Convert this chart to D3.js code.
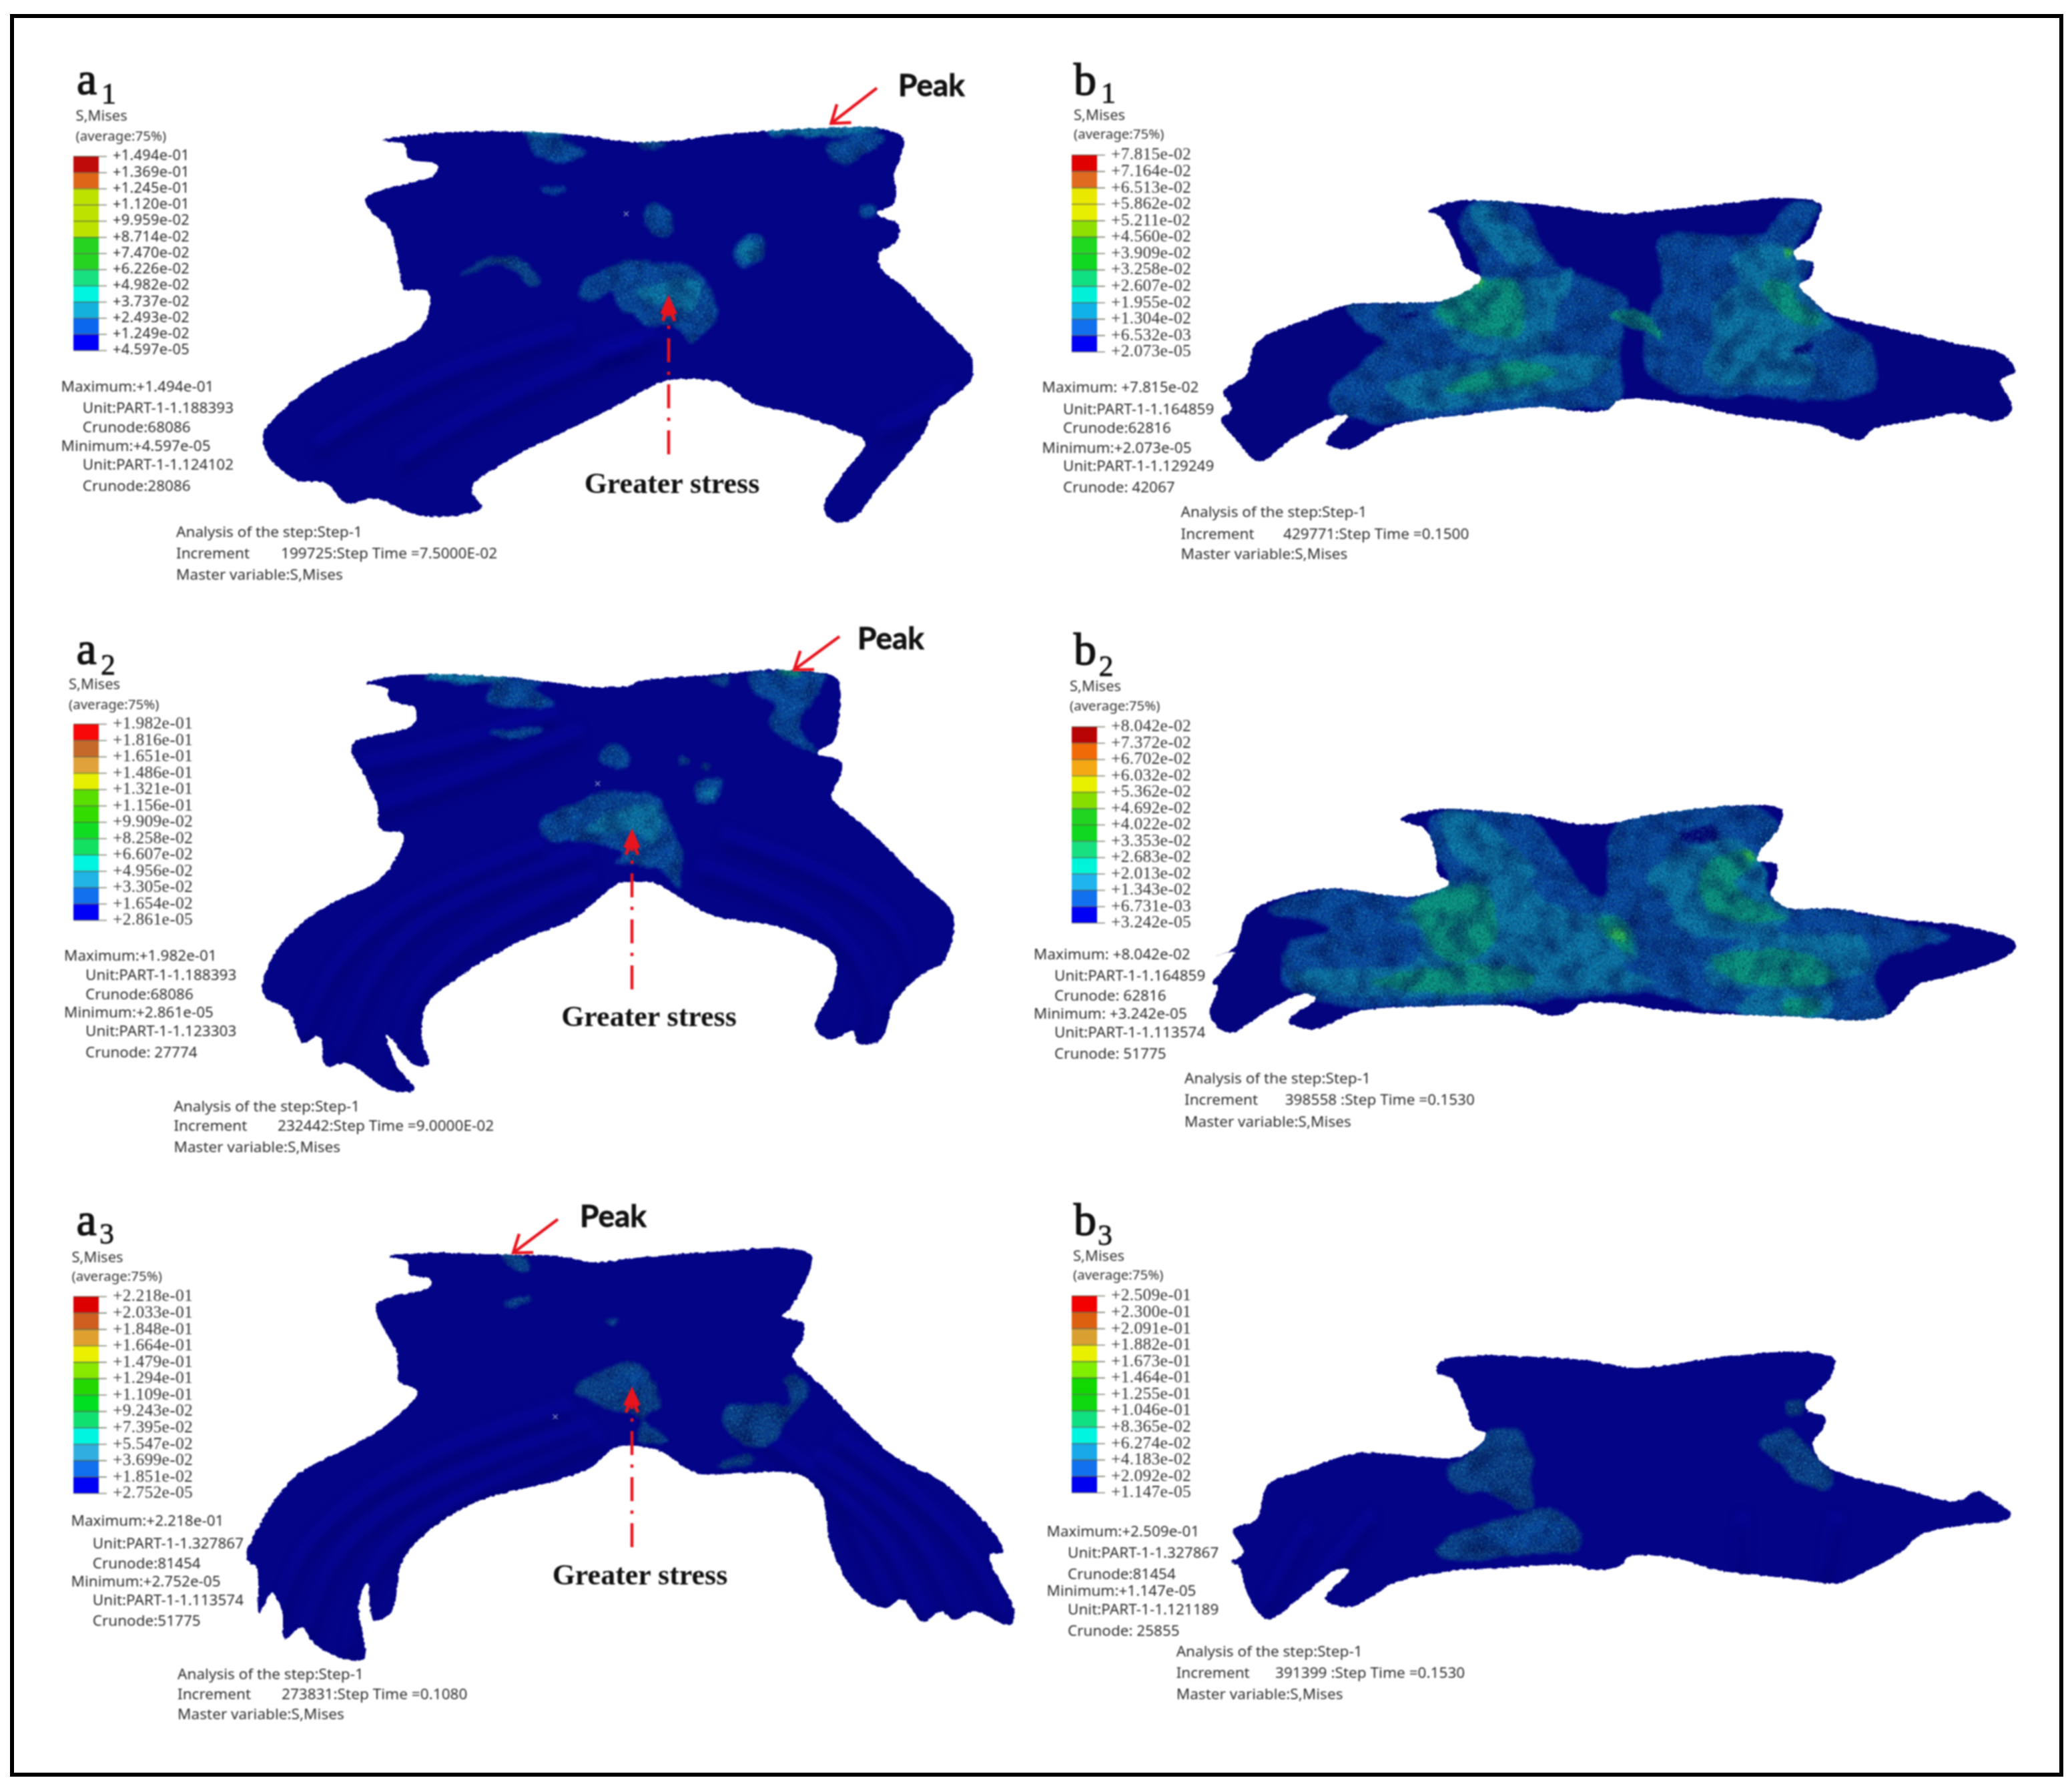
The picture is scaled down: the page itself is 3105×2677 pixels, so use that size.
<!DOCTYPE html>
<html><head><meta charset="utf-8">
<script src="https://cdn.jsdelivr.net/npm/d3@7/dist/d3.min.js"></script>
<style>html,body{margin:0;padding:0;background:#fff}svg{display:block}</style></head>
<body><svg id="fig" width="3105" height="2677"></svg>
<script>
// ---------- legend labels ----------
const legendA1=["+1.494e-01","+1.369e-01","+1.245e-01","+1.120e-01","+9.959e-02","+8.714e-02","+7.470e-02","+6.226e-02","+4.982e-02","+3.737e-02","+2.493e-02","+1.249e-02","+4.597e-05"];
const legendA2=["+1.982e-01","+1.816e-01","+1.651e-01","+1.486e-01","+1.321e-01","+1.156e-01","+9.909e-02","+8.258e-02","+6.607e-02","+4.956e-02","+3.305e-02","+1.654e-02","+2.861e-05"];
const legendA3=["+2.218e-01","+2.033e-01","+1.848e-01","+1.664e-01","+1.479e-01","+1.294e-01","+1.109e-01","+9.243e-02","+7.395e-02","+5.547e-02","+3.699e-02","+1.851e-02","+2.752e-05"];
const legendB1=["+7.815e-02","+7.164e-02","+6.513e-02","+5.862e-02","+5.211e-02","+4.560e-02","+3.909e-02","+3.258e-02","+2.607e-02","+1.955e-02","+1.304e-02","+6.532e-03","+2.073e-05"];
const legendB2=["+8.042e-02","+7.372e-02","+6.702e-02","+6.032e-02","+5.362e-02","+4.692e-02","+4.022e-02","+3.353e-02","+2.683e-02","+2.013e-02","+1.343e-02","+6.731e-03","+3.242e-05"];
const legendB3=["+2.509e-01","+2.300e-01","+2.091e-01","+1.882e-01","+1.673e-01","+1.464e-01","+1.255e-01","+1.046e-01","+8.365e-02","+6.274e-02","+4.183e-02","+2.092e-02","+1.147e-05"];
// ---------- legend band colours ----------
const bandsA1=["#c00b0b","#de6618","#bde200","#bde200","#bde200","#24d420","#24d420","#18e080","#00f5e0","#12b2dc","#0a68ee","#0000fa"];
const bandsA2=["#f80808","#c4692a","#e0a33c","#e6ef00","#58df00","#33dc00","#10dc22","#12e060","#00f5e0","#20b4e4","#1070ee","#0000f5"];
const bandsA3=["#dd0000","#cf5f20","#e0a030","#eaf000","#88e800","#22d800","#00e020","#10e070","#00f5e0","#30aee0","#1070ee","#0000f5"];
const bandsB1=["#e00000","#e06a20","#e8e800","#e8ee00","#8ee000","#20d820","#10d820","#10e080","#00f0d8","#10b0e8","#1070ee","#0000f5"];
const bandsB2=["#b80404","#f06a08","#f4a814","#e8f000","#88dd00","#22d422","#10d820","#18e080","#00f5d8","#20b4ee","#1070ee","#0000f5"];
const bandsB3=["#f40000","#dd6010","#d8a030","#e8f000","#80ee00","#10d800","#10d810","#10e080","#00f5e0","#18a8e8","#1070ee","#0000f0"];
// ---------- result text ----------
const infoA1=["Maximum:+1.494e-01","Unit:PART-1-1.188393","Crunode:68086","Minimum:+4.597e-05","Unit:PART-1-1.124102","Crunode:28086"];
const infoA2=["Maximum:+1.982e-01","Unit:PART-1-1.188393","Crunode:68086","Minimum:+2.861e-05","Unit:PART-1-1.123303","Crunode: 27774"];
const infoA3=["Maximum:+2.218e-01","Unit:PART-1-1.327867","Crunode:81454","Minimum:+2.752e-05","Unit:PART-1-1.113574","Crunode:51775"];
const infoB1=["Maximum: +7.815e-02","Unit:PART-1-1.164859","Crunode:62816","Minimum:+2.073e-05","Unit:PART-1-1.129249","Crunode: 42067"];
const infoB2=["Maximum: +8.042e-02","Unit:PART-1-1.164859","Crunode: 62816","Minimum: +3.242e-05","Unit:PART-1-1.113574","Crunode: 51775"];
const infoB3=["Maximum:+2.509e-01","Unit:PART-1-1.327867","Crunode:81454","Minimum:+1.147e-05","Unit:PART-1-1.121189","Crunode: 25855"];
const stepA1=["Analysis of the step:Step-1","Increment","199725:Step Time =7.5000E-02","Master variable:S,Mises"];
const stepA2=["Analysis of the step:Step-1","Increment","232442:Step Time =9.0000E-02","Master variable:S,Mises"];
const stepA3=["Analysis of the step:Step-1","Increment","273831:Step Time =0.1080","Master variable:S,Mises"];
const stepB1=["Analysis of the step:Step-1","Increment","429771:Step Time =0.1500","Master variable:S,Mises"];
const stepB2=["Analysis of the step:Step-1","Increment","398558 :Step Time =0.1530","Master variable:S,Mises"];
const stepB3=["Analysis of the step:Step-1","Increment","391399 :Step Time =0.1530","Master variable:S,Mises"];
const legendHead=["S,Mises","(average:75%)"];
const peakText="Peak", stressText="Greater stress";
// ---------- model outlines (in each panel's own units) ----------
const outlineA1=[[265,240],[330,222],[420,212],[560,212],[680,225],[780,245],[870,240],[960,222],[1080,207],[1180,200],[1290,200],[1340,235],[1335,290],[1320,350],[1325,400],[1320,445],[1285,480],[1330,515],[1325,570],[1290,610],[1295,660],[1340,720],[1390,800],[1440,880],[1480,950],[1480,1020],[1440,1080],[1400,1130],[1380,1200],[1340,1280],[1290,1370],[1240,1470],[1205,1490],[1175,1440],[1210,1340],[1260,1225],[1220,1190],[1110,1130],[1030,1100],[960,1030],[850,1025],[820,1045],[720,1130],[590,1230],[520,1290],[450,1375],[470,1440],[440,1460],[340,1465],[250,1410],[190,1425],[150,1360],[90,1350],[30,1270],[20,1200],[60,1120],[130,1030],[210,960],[300,900],[350,840],[360,735],[310,725],[300,660],[280,530],[240,470],[230,430],[280,395],[370,355],[380,320],[320,300],[310,255]];
const outlineA2=[[240,180],[300,155],[500,155],[640,175],[720,190],[800,185],[830,170],[990,150],[1120,135],[1230,150],[1250,170],[1250,300],[1240,360],[1205,400],[1255,425],[1255,470],[1235,540],[1280,600],[1340,680],[1420,800],[1490,900],[1495,980],[1470,1070],[1440,1090],[1370,1190],[1340,1310],[1290,1320],[1280,1285],[1230,1310],[1200,1270],[1240,1130],[1240,1040],[1140,960],[980,915],[900,850],[860,815],[780,815],[740,860],[680,930],[580,990],[450,1100],[370,1200],[360,1310],[375,1385],[345,1392],[285,1295],[305,1390],[345,1470],[290,1470],[200,1385],[155,1395],[140,1300],[105,1320],[75,1220],[20,1165],[40,1050],[110,930],[190,860],[270,800],[320,660],[270,640],[265,570],[240,480],[210,375],[340,310],[345,260],[290,230],[285,195]];
const outlineA3=[[305,180],[370,170],[530,175],[640,180],[700,200],[790,185],[950,165],[1090,155],[1130,175],[1130,220],[1090,350],[1075,375],[1115,400],[1115,450],[1095,500],[1100,525],[1150,600],[1230,740],[1300,840],[1390,920],[1500,1110],[1505,1150],[1480,1155],[1530,1345],[1520,1385],[1450,1340],[1410,1370],[1385,1340],[1350,1375],[1310,1300],[1275,1330],[1220,1280],[1170,1130],[1150,960],[1110,895],[900,885],[850,830],[810,805],[750,805],[700,870],[640,910],[480,980],[380,1080],[330,1180],[310,1340],[275,1370],[262,1245],[245,1320],[255,1495],[190,1480],[150,1430],[135,1390],[100,1430],[95,1340],[75,1280],[50,1345],[45,1200],[25,1170],[50,1060],[120,900],[230,800],[300,730],[360,620],[325,590],[320,500],[280,340],[385,280],[385,255],[345,240],[340,200]];
const outlineB1=[[435,170],[480,125],[560,125],[680,150],[770,180],[840,170],[950,140],[1090,110],[1145,140],[1135,230],[1125,290],[1095,350],[1100,385],[1130,400],[1125,470],[1105,500],[1130,570],[1160,630],[1260,690],[1380,760],[1475,815],[1495,890],[1470,930],[1490,1060],[1460,1115],[1400,1080],[1320,1110],[1240,1150],[1215,1200],[1130,1130],[1000,1090],[880,1030],[780,1020],[760,1060],[700,1070],[650,1050],[500,1085],[370,1135],[290,1240],[250,1210],[290,1090],[270,1090],[190,1190],[130,1295],[85,1190],[60,1105],[80,1060],[65,980],[105,905],[125,760],[220,650],[290,590],[470,565],[530,470],[500,420],[490,350],[470,250],[455,190]];
const outlineB2=[[390,145],[450,100],[540,105],[640,130],[720,165],[780,160],[860,120],[1040,80],[1090,100],[1085,180],[1050,290],[1045,330],[1080,345],[1080,420],[1070,480],[1100,540],[1190,545],[1300,590],[1440,630],[1520,700],[1510,750],[1400,850],[1340,890],[1280,1030],[1100,1030],[880,1005],[780,970],[720,975],[700,1015],[650,1020],[620,990],[450,985],[310,1010],[230,1090],[185,1050],[235,950],[215,930],[150,1000],[75,1105],[40,1020],[55,900],[45,880],[60,830],[85,740],[50,760],[85,720],[110,570],[180,490],[260,455],[420,490],[480,430],[460,390],[455,300],[435,190]];
const outlineB3=[[420,170],[430,120],[490,95],[600,100],[700,115],[790,150],[850,140],[950,105],[1130,80],[1175,115],[1160,220],[1120,310],[1125,345],[1155,370],[1155,420],[1135,480],[1145,560],[1190,625],[1300,690],[1405,750],[1445,705],[1475,740],[1510,810],[1500,835],[1420,860],[1340,900],[1300,980],[1240,1060],[1180,1120],[1100,1100],[950,1060],[880,1010],[785,1000],[770,1040],[710,1060],[690,1040],[550,1050],[430,1070],[340,1120],[260,1225],[210,1190],[255,1060],[230,1060],[170,1170],[100,1280],[65,1180],[45,1040],[30,1025],[55,980],[35,880],[80,830],[100,680],[170,610],[270,535],[470,545],[515,450],[490,420],[480,350],[450,200]];
// ---------- stress contours: [level, points]; 0 dark, 1 blue, 2 teal, 3 green, 4 dim, 5 hot ----------
const stressA1=[
[1,[[565,225],[640,240],[685,290],[640,305],[580,285]]],[1,[[1180,265],[1250,220],[1300,230],[1260,290],[1215,320]]],
[1,[[805,490],[830,445],[865,490],[860,550],[830,545]]],[1,[[990,600],[1030,545],[1055,570],[1040,640],[1005,660]]],
[1,[[1250,455],[1280,450],[1280,490],[1255,490]]],[1,[[590,400],[640,395],[640,410],[600,412]]],
[4,[[420,670],[540,615],[565,650],[590,700],[570,715],[520,650],[440,670]]],
[1,[[680,710],[770,635],[840,640],[900,650],[930,700],[955,810],[930,860],[905,895],[860,840],[810,850],[800,830],[750,780],[740,730],[700,770],[675,745]]],
[4,[[790,250],[850,250],[820,275]]],
[2,[[790,735],[850,695],[915,700],[915,760],[900,800],[860,770],[810,770]]],[2,[[1000,600],[1030,570],[1045,600],[1020,640]]],
[2,[[560,208],[640,208],[640,222],[560,222]]],[2,[[1060,205],[1290,197],[1290,206],[1060,220]]]];
const stressA2=[
[1,[[500,240],[520,170],[620,180],[600,200],[640,245]]],[1,[[1060,190],[1070,150],[1220,150],[1210,200],[1170,280],[1170,340],[1205,400],[1150,370],[1105,300],[1115,250]]],
[4,[[975,165],[1020,150],[1010,185]]],[1,[[500,335],[600,315],[620,325],[580,350]]],[1,[[738,410],[770,365],[803,400],[790,450],[755,445]]],
[1,[[940,510],[965,480],[998,490],[985,555],[950,550]]],
[1,[[610,625],[740,530],[850,535],[880,590],[910,700],[910,820],[860,760],[770,755],[790,720],[700,680],[630,680]]],
[4,[[910,425],[925,415],[932,430],[918,442]]],[4,[[955,430],[970,428],[972,445],[958,450]]],
[2,[[705,650],[760,590],[860,570],[860,680],[800,650]]],[2,[[955,520],[985,510],[980,540]]],
[2,[[370,150],[540,155],[540,168],[370,162]]],[3,[[1120,132],[1170,132],[1170,146],[1120,148]]]];
const stressA3=[
[4,[[525,180],[570,180],[580,225],[550,225]]],[4,[[525,330],[580,318],[580,330],[530,340]]],[4,[[730,390],[750,385],[745,410]]],
[4,[[670,620],[700,570],[780,530],[815,570],[835,670],[810,700],[790,790],[850,790],[820,740],[790,700],[740,680]]],
[4,[[960,680],[1010,660],[1090,665],[1080,580],[1110,575],[1125,620],[1080,720],[1040,800],[980,780]]],
[4,[[950,860],[1010,830],[1020,850],[970,870]]],[1,[[740,590],[800,570],[810,600],[770,620]]]];
const stressB1=[
[1,[[290,600],[480,560],[530,470],[490,200],[520,130],[600,140],[650,350],[700,450],[790,560],[780,800],[780,1020],[640,1060],[430,1100],[330,1120],[260,1050],[260,980],[340,800],[360,760],[310,680]]],
[1,[[850,300],[900,270],[1040,270],[1090,130],[1140,150],[1100,350],[1130,400],[1110,500],[1160,640],[1230,770],[1235,970],[1000,1000],[880,980],[830,880],[830,650],[860,500]]],
[2,[[510,150],[550,170],[640,380],[600,420],[540,300]]],
[2,[[440,620],[530,470],[640,470],[700,440],[670,620],[650,760],[620,800],[490,780],[470,700]]],
[2,[[360,960],[500,850],[640,810],[770,850],[700,970],[560,1030],[400,1050]]],
[2,[[980,380],[1070,320],[1100,380],[1110,520],[1160,640],[1170,690],[1110,770],[1130,860],[1125,940],[1010,950],[935,910],[950,740],[950,590],[1000,480]]],
[0,[[1090,780],[1130,770],[1125,800],[1100,810]]],[0,[[370,630],[420,630],[400,650]]],
[3,[[450,610],[530,480],[590,480],[610,640],[600,730],[490,700]]],[3,[[460,980],[510,910],[600,850],[670,890],[650,920],[550,980]]],
[3,[[1040,490],[1090,500],[1100,580],[1150,640],[1130,680],[1070,620]]],[3,[[760,640],[820,620],[860,740],[820,700]]],
[5,[[1075,330],[1095,345],[1082,390]]],[5,[[515,490],[535,470],[530,510]]]];
const stressB2=[
[1,[[150,550],[260,460],[420,490],[480,430],[450,300],[450,130],[520,110],[620,130],[760,500],[790,160],[1040,90],[1085,180],[1050,330],[1070,480],[1100,540],[1190,545],[1330,620],[1400,660],[1260,820],[1280,1030],[1000,1020],[850,930],[700,950],[300,990],[220,940],[170,880],[190,700],[260,640]]],
[0,[[900,210],[970,180],[970,230],[920,240]]],
[2,[[470,110],[520,120],[640,400],[560,420],[480,280]]],
[2,[[380,600],[480,430],[600,400],[680,540],[800,590],[830,750],[800,800],[860,880],[620,930],[350,940],[220,900],[190,840],[280,810],[420,780],[420,650]]],
[2,[[840,420],[870,330],[1000,230],[1050,330],[1070,480],[1110,560],[1080,650],[1240,680],[1250,790],[1200,870],[960,880],[950,780],[1020,690],[900,640],[880,500]]],
[2,[[1020,950],[1100,900],[1180,930],[1170,1030],[1010,1010]]],
[3,[[410,540],[490,440],[540,440],[570,640],[500,800],[420,620]]],[3,[[340,880],[460,810],[640,840],[620,900],[440,920]]],
[3,[[950,340],[1040,300],[1040,350],[1000,430],[1080,550],[1100,580],[1040,610],[950,540]]],[3,[[960,780],[1050,730],[1150,760],[1190,860],[1000,870]]],
[3,[[750,600],[800,590],[820,750],[790,720]]],[3,[[1100,950],[1160,960],[1160,1020],[1100,1020]]],
[5,[[775,640],[800,640],[805,690],[785,690]]],[5,[[1020,300],[1040,300],[1040,340]]]];
const stressB3=[
[4,[[450,590],[480,545],[530,430],[575,430],[600,540],[600,700],[600,780],[530,730],[465,690],[440,620]]],
[4,[[420,960],[520,850],[640,790],[690,880],[690,960],[560,990],[440,1010]]],
[1,[[480,930],[560,870],[650,850],[670,920],[560,960]]],
[4,[[1085,300],[1115,310],[1115,360],[1085,365]]],[4,[[1035,490],[1080,420],[1130,520],[1170,620],[1165,690],[1110,670],[1070,590]]]];
// ---------- shaded ridges ----------
const ridgesA1=[[[130,1230],[350,1000],[660,850]],[[300,1280],[500,1080],[800,890]],[[700,930],[770,900],[830,860]],[[1290,1180],[1400,1110],[1440,1040]]];
const ridgesA2=[[[110,1290],[170,1050],[350,830],[620,680]],[[190,1340],[280,1000],[470,830],[720,700]],[[310,1390],[330,1130],[520,920],[730,790]],[[1290,1280],[1330,1100],[1200,880],[950,750]],[[1350,1200],[1420,1000],[1280,800],[1000,650]],[[230,430],[450,360],[650,260]],[[270,560],[500,450],[700,320]]];
const ridgesA3=[[[95,1340],[130,1100],[350,830],[660,660]],[[150,1400],[200,1100],[420,880],[700,720]],[[230,1460],[270,1130],[470,930],[720,760]],[[1350,1350],[1250,1000],[1000,720]],[[1410,1340],[1340,1050],[1140,820]],[[1500,1340],[1420,1060],[1180,760]],[[1280,1300],[1180,950]]];
const ridgesB3=[[[100,1200],[180,850]],[[200,1100],[300,800]],[[1000,1040],[1000,800]],[[1160,1060],[1180,800]]];

// ---------- page scales for every panel ----------
const W=3105,H=2677;
const svg=d3.select("#fig");
const defs=svg.append("defs");
const full={filterUnits:"userSpaceOnUse",x:0,y:0,width:W,height:H};
const mkFilter=id=>{const f=defs.append("filter").attr("id",id).attr("color-interpolation-filters","sRGB");Object.entries(full).forEach(([k,v])=>f.attr(k,v));return f;};
let f=mkFilter("soft");f.append("feGaussianBlur").attr("stdDeviation",0.8);
f=mkFilter("rib");f.append("feGaussianBlur").attr("stdDeviation",7);
f=mkFilter("edge");
f.append("feTurbulence").attr("type","fractalNoise").attr("baseFrequency",0.16).attr("numOctaves",2).attr("seed",4).attr("result","n");
f.append("feDisplacementMap").attr("in","SourceGraphic").attr("in2","n").attr("scale",5).attr("xChannelSelector","R").attr("yChannelSelector","G").attr("result","d");
f.append("feGaussianBlur").attr("in","d").attr("stdDeviation",1.3);
f=mkFilter("patch");
f.append("feTurbulence").attr("type","fractalNoise").attr("baseFrequency",0.028).attr("numOctaves",3).attr("seed",11).attr("result","w");
f.append("feDisplacementMap").attr("in","SourceGraphic").attr("in2","w").attr("scale",14).attr("xChannelSelector","R").attr("yChannelSelector","G").attr("result","dd");
f.append("feGaussianBlur").attr("in","dd").attr("stdDeviation",2.6).attr("result","b");
// gentle mottling
f.append("feTurbulence").attr("type","fractalNoise").attr("baseFrequency",0.03).attr("numOctaves",2).attr("seed",21).attr("result","mt");
f.append("feColorMatrix").attr("in","mt").attr("type","matrix").attr("values","0 0 0 0 0  0 0 0 0 0.02  0 0 0 0 0.3  1.3 0 0 0 -0.5").attr("result","mg");
f.append("feComposite").attr("in","mg").attr("in2","b").attr("operator","in").attr("result","mott");
// speckle
f.append("feTurbulence").attr("type","fractalNoise").attr("baseFrequency",0.42).attr("numOctaves",2).attr("seed",9).attr("result","t");
f.append("feColorMatrix").attr("in","t").attr("type","matrix").attr("values","0 0 0 0 0  0 0 0 0 0.03  0 0 0 0 0.2  1.6 0 0 0 -0.7").attr("result","g");
f.append("feComposite").attr("in","g").attr("in2","b").attr("operator","in").attr("result","dark");
f.append("feColorMatrix").attr("in","t").attr("type","matrix").attr("values","0 0 0 0 0.2  0 0 0 0 0.8  0 0 0 0 0.75  0 1.5 0 0 -0.75").attr("result","h");
f.append("feComposite").attr("in","h").attr("in2","b").attr("operator","in").attr("result","light");
let m=f.append("feMerge");["b","mott","dark","light"].forEach(n=>m.append("feMergeNode").attr("in",n));
f.append("feGaussianBlur").attr("stdDeviation",0.7);

const levelFill=d3.scaleOrdinal([0,1,2,3,4,5],["#04047a","#0848a4","#0c76ac","#0a9a80","#0a3f90","#30c050"]);
const PANELS=[
 {id:"a1",mark:"a",sub:"1",legend:legendA1,bands:bandsA1,info:infoA1,step:stepA1,outline:outlineA1,stress:stressA1,ridges:ridgesA1,
  box:[380,100,1140,720],dom:[1568,1568],bar:[110,234,525],serif:false,head:[[113.6,173.5],[113.6,204]],tag:[115,141,152,155],
  infoX:[91.6,123.8],infoY:[579,610.7,640.5,668,696.5,728],stepX:[264,421],stepY:[797,829,861],
  peak:[1346,127.5],arrow:[[1314,132],[1245.5,185]],sx:1002,sy:[681,449],gs:[1007,724],cross:[768,480],base:"#040486"},
 {id:"a2",mark:"a",sub:"2",legend:legendA2,bands:bandsA2,info:infoA2,step:stepA2,outline:outlineA2,stress:stressA2,ridges:ridgesA2,
  box:[380,940,1100,740],dom:[1568,1568],bar:[110,1085,1379],serif:true,head:[[103,1025],[103,1056]],tag:[114.4,994.6,151,1010.5],
  infoX:[96,128],infoY:[1432,1461.5,1490,1517.6,1545,1577],stepX:[260.4,416],stepY:[1658,1687,1719],
  peak:[1285,956.5],arrow:[[1258,954],[1190,1004]],sx:947,sy:[1483,1249],gs:[972.5,1523],cross:[735,498],base:"#040486"},
 {id:"a3",mark:"a",sub:"3",legend:legendA3,bands:bandsA3,info:infoA3,step:stepA3,outline:outlineA3,stress:stressA3,ridges:ridgesA3,
  box:[350,1800,1200,720],dom:[1568,1568],bar:[110,1943,2238],serif:true,head:[[107.5,1884],[107.5,1913]],tag:[114.4,1851,149,1864],
  infoX:[106.6,138.8],infoY:[2279.6,2312.8,2343,2370,2398,2429],stepX:[266,422],stepY:[2509,2539,2569],
  peak:[869,1823],arrow:[[836,1827.5],[769,1878]],sx:947,sy:[2319,2085],gs:[959,2360],cross:[630,705],base:"#040486"},
 {id:"b1",mark:"b",sub:"1",legend:legendB1,bands:bandsB1,info:infoB1,step:stepB1,outline:outlineB1,stress:stressB1,ridges:[],
  box:[1780,260,1300,460],dom:[1568,1380],bar:[1606,232,527],serif:true,head:[[1609,172],[1609,201]],tag:[1609,141.6,1650,154],
  infoX:[1561.6,1593],infoY:[580,613.6,641.6,670.7,698,730],stepX:[1769.6,1923],stepY:[766.6,800,830],base:"#04047e"},
 {id:"b2",mark:"b",sub:"2",legend:legendB2,bands:bandsB2,info:infoB2,step:stepB2,outline:outlineB2,stress:stressB2,ridges:[],
  box:[1780,1180,1280,420],dom:[1568,1260],bar:[1606,1089,1383],serif:true,head:[[1603,1028],[1603,1057.6]],tag:[1609,996,1646.5,1012.6],
  infoX:[1549,1580],infoY:[1430,1462,1492,1519,1547,1579],stepX:[1775,1925.7],stepY:[1616,1648,1681],base:"#04047e"},
 {id:"b3",mark:"b",sub:"3",legend:legendB3,bands:bandsB3,info:infoB3,step:stepB3,outline:outlineB3,stress:stressB3,ridges:ridgesB3,
  box:[1820,2000,1240,460],dom:[1568,1380],bar:[1606,1942,2237],serif:true,head:[[1608,1882],[1608,1911]],tag:[1609,1851,1645,1865.5],
  infoX:[1568.5,1600],infoY:[2295,2327,2359,2384,2412,2444],stepX:[1762.7,1911],stepY:[2475,2507,2539],base:"#040486"}
];
const SANS="'Noto Sans',sans-serif", SERIF="'Liberation Serif',serif";
const RED="#e8141e";

// frame
svg.append("rect").attr("x",18).attr("y",24).attr("width",3071).attr("height",2636).attr("fill","none").attr("stroke","#000").attr("stroke-width",6);

const models=svg.append("g");
const texts=svg.append("g").attr("filter","url(#soft)");

PANELS.forEach(p=>{
  const x=d3.scaleLinear([0,p.dom[0]],[p.box[0],p.box[0]+p.box[2]]);
  const y=d3.scaleLinear([0,p.dom[1]],[p.box[1],p.box[1]+p.box[3]]);
  const closed=d3.line().x(d=>x(d[0])).y(d=>y(d[1])).curve(d3.curveCatmullRomClosed.alpha(0.5));
  const open=d3.line().x(d=>x(d[0])).y(d=>y(d[1])).curve(d3.curveBasis);
  // model
  defs.append("clipPath").attr("id","clip-"+p.id).append("path").attr("d",closed(p.outline));
  const wrap=models.append("g").attr("filter","url(#edge)");
  const g=wrap.append("g").attr("clip-path",`url(#clip-${p.id})`);
  g.append("path").attr("d",closed(p.outline)).attr("fill",p.base);
  const ribs=g.append("g").attr("filter","url(#rib)");
  ribs.append("g").selectAll("path").data(p.ridges).join("path").attr("d",open).attr("fill","none")
    .attr("stroke","#0808ae").attr("stroke-opacity",0.35).attr("stroke-width",18);
  ribs.append("g").selectAll("path").data(p.ridges).join("path").attr("d",open).attr("fill","none")
    .attr("stroke","#01015c").attr("stroke-opacity",0.4).attr("stroke-width",14).attr("transform","translate(0,20)");
  g.append("g").attr("filter","url(#patch)").selectAll("path").data(p.stress).join("path")
    .attr("d",d=>closed(d[1])).attr("fill",d=>levelFill(d[0]));
  if(p.cross) texts.append("text").attr("x",x(p.cross[0])).attr("y",y(p.cross[1])).attr("dy","0.35em").attr("text-anchor","middle")
    .attr("font-family",SANS).attr("font-size",18).attr("fill","#8a94c4").text("×");
  // legend
  const yL=d3.scalePoint(p.legend,[p.bar[1],p.bar[2]]);
  const L=texts.append("g").attr("transform",`translate(${p.bar[0]},0)`);
  L.selectAll("rect").data(p.bands).join("rect").attr("x",0).attr("width",38)
    .attr("y",(d,i)=>yL(p.legend[i])).attr("height",(d,i)=>yL(p.legend[i+1])-yL(p.legend[i])).attr("fill",d=>d);
  const ax=L.append("g").call(d3.axisRight(yL).tickSize(50).tickSizeOuter(0).tickPadding(9));
  ax.select(".domain").remove();
  ax.selectAll("line").attr("stroke","#55604a").attr("stroke-width",1.6).attr("stroke-opacity",0.75);
  ax.selectAll("text").attr("font-family",p.serif?SERIF:SANS).attr("font-size",p.serif?25.5:21.8).attr("letter-spacing",p.serif?0.3:0.25)
    .attr("fill",p.serif?"#333":"#2c2c2c").attr("dy","0.27em");
  // headings
  legendHead.forEach((t,i)=>texts.append("text").attr("x",p.head[i][0]).attr("y",p.head[i][1]).attr("dy","0.35em")
    .attr("font-family",SANS).attr("font-size",i==0?22:20.5).attr("fill","#333").text(t));
  texts.append("text").attr("x",p.tag[0]).attr("y",p.tag[1]).attr("font-family",SERIF).attr("font-size",68)
    .attr("fill","#111").attr("stroke","#111").attr("stroke-width",1.6).text(p.mark);
  texts.append("text").attr("x",p.tag[2]).attr("y",p.tag[3]).attr("font-family",SERIF).attr("font-size",44)
    .attr("fill","#111").attr("stroke","#111").attr("stroke-width",0.8).text(p.sub);
  // info
  p.info.forEach((t,i)=>texts.append("text").attr("x",p.infoX[i%3==0?0:1]).attr("y",p.infoY[i]).attr("dy","0.35em")
    .attr("font-family",SANS).attr("font-size",22.5).attr("fill","#2e2e2e").text(t));
  const st=(xx,yy,t)=>texts.append("text").attr("x",xx).attr("y",yy).attr("dy","0.35em")
    .attr("font-family",SANS).attr("font-size",22.6).attr("fill","#2e2e2e").text(t);
  st(p.stepX[0],p.stepY[0],p.step[0]);st(p.stepX[0],p.stepY[1],p.step[1]);st(p.stepX[1],p.stepY[1],p.step[2]);st(p.stepX[0],p.stepY[2],p.step[3]);
  // annotations
  if(p.peak){
    texts.append("text").attr("x",p.peak[0]).attr("y",p.peak[1]).attr("dy","0.35em").attr("font-family","Lato,sans-serif").attr("font-weight",700)
      .attr("font-size",46).attr("fill","#111").attr("stroke","#111").attr("stroke-width",0.8).text(peakText);
    const [a,b]=p.arrow, ang=Math.atan2(a[1]-b[1],a[0]-b[0]);
    const head=(o)=>[b[0]+30*Math.cos(ang+o),b[1]+30*Math.sin(ang+o)];
    texts.append("path").attr("d",d3.line()([a,b])).attr("stroke",RED).attr("stroke-width",4.5).attr("fill","none");
    texts.append("path").attr("d",d3.line()([head(0.62),b,head(-0.62)])).attr("stroke",RED).attr("stroke-width",4.5).attr("fill","none");
    texts.append("path").attr("d",d3.line()([[p.sx,p.sy[0]],[p.sx,p.sy[1]+12]])).attr("stroke",RED).attr("stroke-width",4.5)
      .attr("stroke-dasharray","36 14 5 14").attr("fill","none");
    const t=[p.sx,p.sy[1]];
    texts.append("path").attr("d",d3.line()([[t[0]-10,t[1]+22],t,[t[0]+10,t[1]+22]])).attr("stroke",RED).attr("stroke-width",6).attr("fill","none");
    texts.append("path").attr("d",d3.line()([[t[0]-9,t[1]+32],[t[0],t[1]+10],[t[0]+9,t[1]+32]])).attr("stroke",RED).attr("stroke-width",5).attr("fill","none");
    texts.append("text").attr("x",p.gs[0]).attr("y",p.gs[1]).attr("dy","0.35em").attr("text-anchor","middle")
      .attr("font-family",SERIF).attr("font-weight",700).attr("font-size",44).attr("fill","#111").text(stressText);
  }
});
</script></body></html>
